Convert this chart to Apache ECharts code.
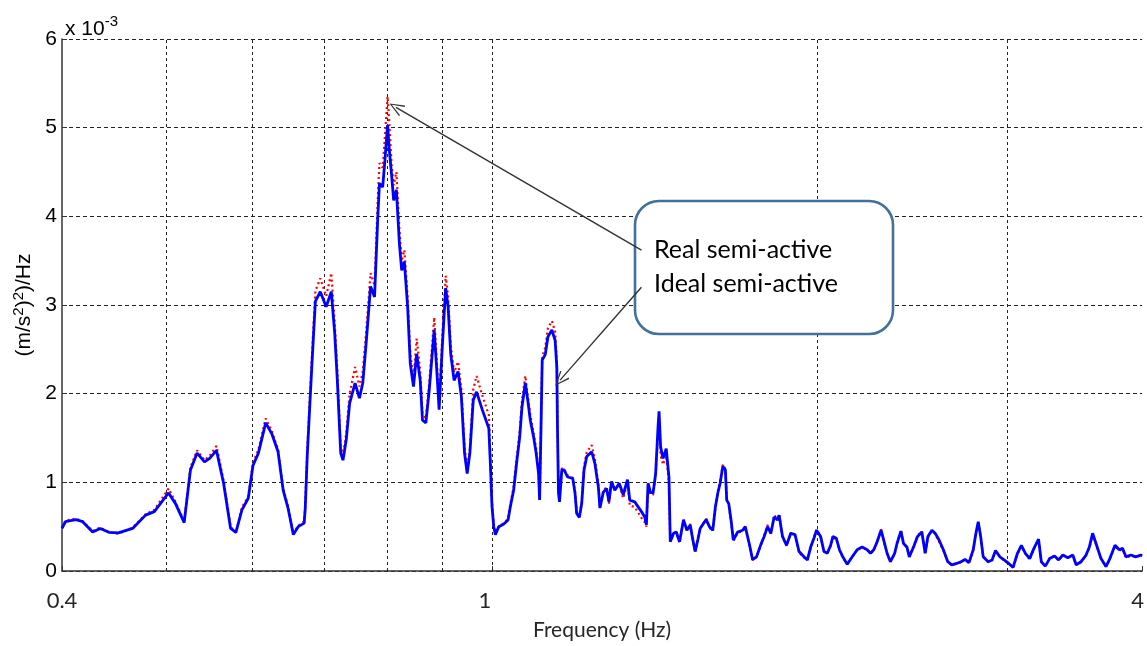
<!DOCTYPE html>
<html><head><meta charset="utf-8">
<script src="https://cdn.jsdelivr.net/npm/echarts@6/dist/echarts.min.js"></script>
<style>html,body{margin:0;padding:0;background:#fff}#c{width:1147px;height:646px}</style>
</head><body><div id="c"></div>
<script>
// Frequency (Hz)
const freq = [0.400,0.403,0.412,0.418,0.427,0.434,0.442,0.451,0.465,0.478,0.487,0.502,0.5095,0.519,0.526,0.5335,0.542,0.548,0.556,0.5645,0.573,0.5795,0.587,0.595,0.601,0.608,0.6175,0.6255,0.634,0.641,0.6476,0.655,0.6618,0.6703,0.6718,0.6747,0.6776,0.6808,0.6847,0.6865,0.6937,0.7025,0.7102,0.7154,0.7194,0.7246,0.7281,0.7332,0.7385,0.7471,0.7541,0.7595,0.765,0.7722,0.7788,0.7842,0.787,0.7924,0.7962,0.8007,0.8037,0.8077,0.8112,0.8159,0.8212,0.8252,0.8299,0.8357,0.8404,0.8462,0.852,0.8584,0.8626,0.8688,0.8751,0.8844,0.8905,0.8937,0.8998,0.9063,0.911,0.9161,0.9227,0.9306,0.9371,0.9435,0.9488,0.9543,0.9612,0.968,0.9798,0.9936,0.9969,1.0004,1.0041,1.0076,1.015,1.0259,1.0352,1.0402,1.0476,1.055,1.0612,1.0664,1.074,1.0795,1.0855,1.0932,1.0991,1.1048,1.1072,1.1103,1.1134,1.1206,1.127,1.1366,1.1445,1.1486,1.1502,1.1527,1.1552,1.1609,1.1667,1.1751,1.1883,1.194,1.1983,1.2052,1.2112,1.2172,1.2242,1.2372,1.2458,1.2549,1.2592,1.2684,1.2773,1.2835,1.2908,1.2997,1.3121,1.3233,1.3354,1.3419,1.3561,1.3757,1.3854,1.3903,1.3953,1.4021,1.4102,1.418,1.4253,1.4283,1.4331,1.4404,1.4503,1.4588,1.4629,1.4733,1.4818,1.4921,1.5048,1.5158,1.5265,1.5352,1.5426,1.5513,1.5591,1.5792,1.5903,1.6017,1.6107,1.619,1.6269,1.6362,1.6452,1.65,1.6571,1.6652,1.6734,1.689,1.7069,1.7164,1.731,1.7434,1.7583,1.7746,1.7871,1.8,1.8128,1.8256,1.8388,1.845,1.8583,1.8742,1.8913,1.9086,1.925,1.9455,1.9596,1.9733,1.9871,1.9983,2.0157,2.03,2.0448,2.0591,2.0691,2.0839,2.0983,2.1132,2.1333,2.1562,2.179,2.2019,2.2258,2.2416,2.2574,2.2737,2.2928,2.3055,2.3224,2.3388,2.3602,2.3721,2.392,2.4052,2.4229,2.4349,2.4573,2.4781,2.5011,2.5189,2.5335,2.5551,2.573,2.5946,2.6185,2.6433,2.6657,2.6938,2.7187,2.7421,2.7655,2.7906,2.8066,2.8205,2.835,2.8506,2.8807,2.905,2.9264,2.9535,2.9805,3.0103,3.0381,3.0665,3.0923,3.1187,3.1473,3.176,3.2076,3.2264,3.2542,3.284,3.3191,3.3475,3.378,3.4139,3.4504,3.4752,3.512,3.5496,3.5744,3.5992,3.6256,3.6643,3.7031,3.7296,3.7752,3.8098,3.8366,3.8642,3.905,3.946,3.987,4.0];
// PSD, units of 1e-3 (m/s^2)^2/Hz
const ideal = [0.48,0.556,0.58,0.556,0.44,0.48,0.436,0.43,0.48,0.63,0.67,0.88,0.76,0.545,1.14,1.33,1.23,1.27,1.36,0.99,0.48,0.436,0.69,0.82,1.19,1.33,1.67,1.55,1.345,0.91,0.71,0.41,0.50,0.54,0.70,1.30,1.75,2.23,2.79,3.04,3.15,2.98,3.15,2.68,2.15,1.33,1.25,1.48,1.89,2.12,1.95,2.12,2.57,3.21,3.09,3.99,4.37,4.33,4.63,5.03,4.75,4.46,4.18,4.30,3.69,3.39,3.49,2.98,2.34,2.08,2.45,2.15,1.70,1.67,2.04,2.72,2.15,1.82,2.53,3.19,2.98,2.45,2.15,2.25,1.97,1.33,1.10,1.33,1.93,2.02,1.82,1.61,1.21,0.725,0.50,0.41,0.50,0.53,0.575,0.725,0.91,1.25,1.51,1.85,2.12,1.93,1.70,1.51,1.33,1.10,0.80,1.55,2.38,2.44,2.64,2.72,2.60,2.30,1.63,0.88,0.78,1.14,1.14,1.06,1.045,0.88,0.65,0.605,0.76,1.14,1.29,1.345,1.21,0.95,0.71,0.89,0.93,0.78,1.01,0.91,0.99,0.86,1.03,0.80,0.78,0.67,0.61,0.52,0.99,0.89,0.88,1.10,1.63,1.80,1.40,1.27,1.38,1.06,0.33,0.425,0.44,0.33,0.575,0.46,0.52,0.35,0.22,0.35,0.48,0.58,0.50,0.46,0.725,0.88,0.99,1.18,1.14,0.80,0.76,0.575,0.35,0.44,0.46,0.50,0.31,0.13,0.16,0.30,0.39,0.50,0.425,0.61,0.575,0.63,0.39,0.29,0.425,0.41,0.22,0.16,0.125,0.27,0.37,0.46,0.39,0.22,0.20,0.29,0.39,0.37,0.24,0.16,0.075,0.16,0.24,0.27,0.24,0.20,0.24,0.33,0.46,0.35,0.20,0.105,0.20,0.31,0.45,0.31,0.27,0.16,0.27,0.39,0.44,0.20,0.39,0.46,0.425,0.35,0.24,0.105,0.07,0.085,0.105,0.13,0.095,0.24,0.425,0.556,0.39,0.16,0.105,0.125,0.23,0.16,0.125,0.085,0.04,0.20,0.29,0.20,0.14,0.255,0.36,0.105,0.055,0.14,0.17,0.125,0.18,0.15,0.18,0.07,0.105,0.18,0.27,0.425,0.31,0.14,0.05,0.125,0.29,0.24,0.255,0.16,0.18,0.16,0.18,0.17];
const real = [0.49,0.57,0.59,0.56,0.45,0.49,0.44,0.42,0.49,0.64,0.69,0.93,0.78,0.56,1.17,1.36,1.25,1.30,1.41,1.02,0.50,0.43,0.72,0.84,1.22,1.37,1.72,1.58,1.37,0.93,0.73,0.42,0.51,0.56,0.74,1.36,1.82,2.33,2.90,3.16,3.30,3.10,3.36,2.80,2.26,1.40,1.30,1.56,2.00,2.30,2.08,2.25,2.70,3.36,3.22,4.20,4.60,4.55,4.90,5.35,5.05,4.58,4.35,4.50,3.85,3.50,3.62,3.10,2.45,2.18,2.62,2.26,1.78,1.72,2.12,2.86,2.24,1.88,2.65,3.33,3.10,2.55,2.24,2.36,2.05,1.40,1.15,1.38,2.05,2.20,1.98,1.76,1.30,0.78,0.52,0.43,0.50,0.54,0.59,0.75,0.95,1.30,1.57,1.92,2.20,1.98,1.76,1.56,1.38,1.12,0.82,1.58,2.42,2.52,2.74,2.82,2.70,2.36,1.66,0.90,0.80,1.16,1.14,1.08,1.05,0.90,0.66,0.61,0.78,1.18,1.34,1.42,1.26,0.98,0.73,0.90,0.95,0.76,1.02,0.92,0.97,0.82,1.00,0.74,0.72,0.60,0.55,0.50,0.97,0.86,0.86,1.08,1.55,1.72,1.30,1.20,1.30,1.00,0.33,0.44,0.43,0.32,0.58,0.45,0.53,0.34,0.21,0.35,0.48,0.59,0.49,0.45,0.72,0.90,1.01,1.20,1.15,0.82,0.74,0.56,0.34,0.43,0.45,0.49,0.30,0.12,0.16,0.29,0.40,0.52,0.42,0.63,0.59,0.64,0.38,0.28,0.43,0.40,0.21,0.15,0.12,0.26,0.38,0.47,0.38,0.22,0.21,0.28,0.37,0.36,0.23,0.15,0.08,0.16,0.24,0.27,0.24,0.20,0.23,0.33,0.47,0.34,0.20,0.10,0.19,0.31,0.46,0.30,0.27,0.17,0.28,0.40,0.45,0.19,0.38,0.45,0.42,0.33,0.23,0.10,0.07,0.08,0.10,0.13,0.09,0.23,0.42,0.55,0.40,0.16,0.10,0.12,0.22,0.16,0.12,0.08,0.04,0.19,0.28,0.20,0.13,0.25,0.35,0.10,0.05,0.14,0.17,0.12,0.18,0.15,0.17,0.07,0.10,0.18,0.26,0.41,0.30,0.14,0.05,0.12,0.28,0.23,0.25,0.15,0.17,0.16,0.17,0.17];
const seriesNames = ['Real semi-active', 'Ideal semi-active'];
const xTickValues = [0.4, 1, 4];
const xTickLabels = ['0.4', '1', '4'];
const xGridValues = [0.5, 0.6, 0.7, 0.8, 0.9, 1, 2, 3];
// annotation arrows: [start(freq,val), target(freq,val)]
const arrowReal = [[1.3757, 3.62], [0.8152, 5.23]];
const arrowIdeal = [[1.3757, 3.20], [1.1567, 2.153]];

const chart = echarts.init(document.getElementById('c'), null, {renderer: 'canvas'});
const pts = ys => freq.map((f, i) => [f, ys[i]]);
const calibri = 'Lato, "Open Sans", sans-serif';
const arial = '"Liberation Sans", Arial, sans-serif';
const chevron = 'path://M0,0 L6,14 L4.8,14.6 L0,2.6 L-4.8,14.6 L-6,14 Z';

const option = {
  animation: false,
  backgroundColor: '#ffffff',
  grid: {left: 62, top: 39, width: 1086, height: 532, containLabel: false},
  title: {
    text: '{a|x 10}{b|-3}', left: 60, top: 9,
    textStyle: {rich: {
      a: {fontFamily: arial, fontSize: 21, fontWeight: 'normal', color: '#000'},
      b: {fontFamily: arial, fontSize: 15, fontWeight: 'normal', color: '#000', padding: [0, 0, 15, 0]}
    }}
  },
  xAxis: {
    type: 'log', logBase: 10, min: 0.4, max: 4,
    name: 'Frequency (Hz)', nameLocation: 'middle', nameGap: 49,
    nameTextStyle: {fontFamily: calibri, fontSize: 21, color: '#262626'},
    axisLine: {show: true, onZero: false, lineStyle: {color: '#333', width: 1.5}},
    axisTick: {show: true, inside: true, length: 5, lineStyle: {color: '#333'}},
    minorTick: {show: false},
    splitLine: {show: false},
    axisLabel: {
      show: true, showMinLabel: true, showMaxLabel: true, margin: 19,
      fontFamily: calibri, fontSize: 22, color: '#262626',
      formatter: v => {
        const i = xTickValues.findIndex(t => Math.abs(t - v) < 1e-6);
        return i < 0 ? '' : '{t' + i + '|' + xTickLabels[i] + '}';
      },
      rich: {
        t0: {fontFamily: calibri, fontSize: 22, color: '#262626'},
        t1: {fontFamily: calibri, fontSize: 22, color: '#262626', padding: [0, 14, 0, 0]},
        t2: {fontFamily: calibri, fontSize: 22, color: '#262626', padding: [0, 9, 0, 0]}
      }
    }
  },
  yAxis: {
    type: 'value', min: 0, max: 6, interval: 1,
    name: '{a|(m/s}{s|2}{a|)}{s|2}{a|)/Hz}', nameLocation: 'middle', nameRotate: 90, nameGap: 20,
    nameTextStyle: {rich: {
      a: {fontFamily: arial, fontSize: 21, color: '#000'},
      s: {fontFamily: arial, fontSize: 15, color: '#000', padding: [0, 0, 11, 0]}
    }},
    axisLine: {show: true, lineStyle: {color: '#333', width: 1.5}},
    axisTick: {show: true, inside: true, length: 5, lineStyle: {color: '#333'}},
    axisLabel: {fontFamily: arial, fontSize: 21, color: '#000', margin: 5},
    splitLine: {show: true, lineStyle: {color: '#222', width: 1, type: [4, 3]}}
  },
  graphic: {elements: [
    {type: 'rect', z: 10, shape: {x: 635, y: 201, width: 258, height: 133, r: 24},
     style: {fill: '#fff', stroke: '#41719C', lineWidth: 2.6}},
    {type: 'text', z: 11, style: {text: seriesNames[0], x: 654, y: 250, font: '25px Lato', fill: '#000', verticalAlign: 'middle', align: 'left'}},
    {type: 'text', z: 11, style: {text: seriesNames[1], x: 654, y: 284, font: '25px Lato', fill: '#000', verticalAlign: 'middle', align: 'left'}}
  ]},
  series: [
    {type: 'line', data: [], z: 1, silent: true,
     markLine: {z: 1, silent: true, symbol: ['none', 'none'], label: {show: false},
       lineStyle: {color: '#222', width: 1, type: [3, 3]}, emphasis: {disabled: true},
       data: xGridValues.map(v => ({xAxis: v}))}},
    {type: 'line', name: seriesNames[0], data: pts(real), symbol: 'none', z: 3, clip: true,
     lineStyle: {color: '#ff0000', width: 2.2, type: [2, 3]}},
    {type: 'line', name: seriesNames[1], data: pts(ideal), symbol: 'none', z: 4, clip: true,
     lineStyle: {color: '#0000ff', width: 2.8}},
    {type: 'line', data: [], z: 20, silent: true,
     markLine: {z: 20, silent: true, symbol: ['none', chevron], symbolSize: [12, 15], label: {show: false},
       lineStyle: {color: '#333', width: 1.4, type: 'solid'}, emphasis: {disabled: true},
       itemStyle: {color: '#333'},
       data: [
         [{coord: arrowReal[0]}, {coord: arrowReal[1]}],
         [{coord: arrowIdeal[0]}, {coord: arrowIdeal[1]}]
       ]}}
  ]
};
chart.setOption(option);
</script></body></html>
